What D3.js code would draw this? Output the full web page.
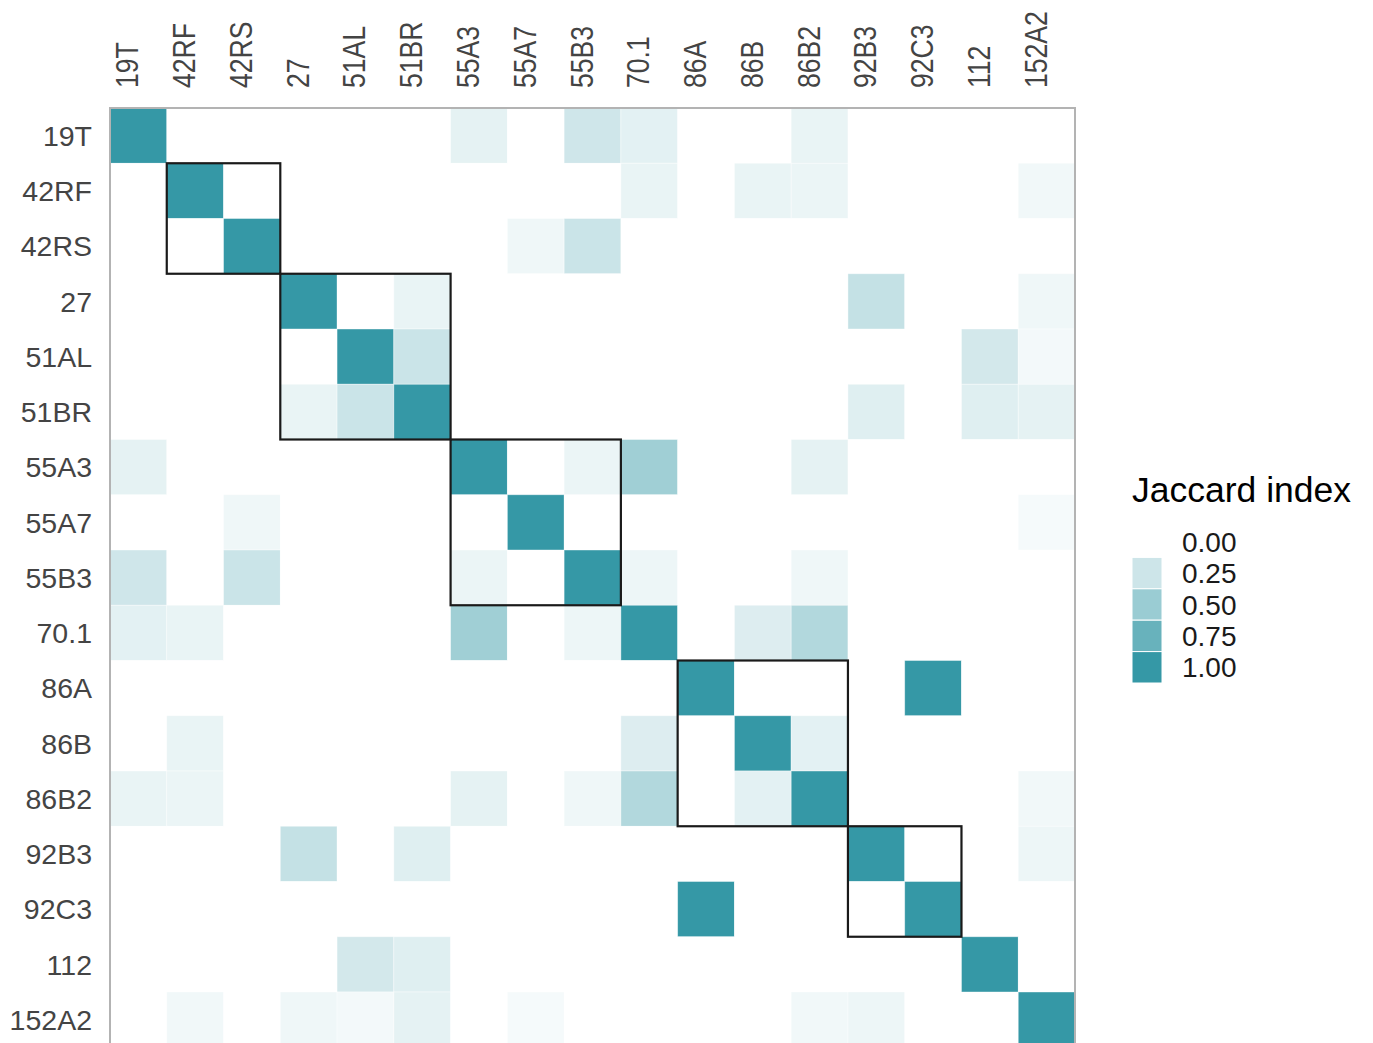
<!DOCTYPE html>
<html>
<head>
<meta charset="utf-8">
<script src="https://cdn.jsdelivr.net/npm/d3@7"></script>
<style>
    body { margin: 0; background: #fff; }
    text { font-family: "Liberation Sans", Arial, sans-serif; }
</style>
</head>
<body>
<div class="container"></div>
<script>
var samples = ["19T", "42RF", "42RS", "27", "51AL", "51BR", "55A3", "55A7", "55B3",
    "70.1", "86A", "86B", "86B2", "92B3", "92C3", "112", "152A2"];

// Jaccard index, row by row (same order as samples)
var jaccard = [
    [1, 0, 0, 0, 0, 0, .13, 0, .24, .14, 0, 0, .11, 0, 0, 0, 0],
    [0, 1, 0, 0, 0, 0, 0, 0, 0, .11, 0, .11, .10, 0, 0, 0, .07],
    [0, 0, 1, 0, 0, 0, 0, .08, .26, 0, 0, 0, 0, 0, 0, 0, 0],
    [0, 0, 0, 1, 0, .11, 0, 0, 0, 0, 0, 0, 0, .29, 0, 0, .08],
    [0, 0, 0, 0, 1, .26, 0, 0, 0, 0, 0, 0, 0, 0, 0, .22, .06],
    [0, 0, 0, .11, .26, 1, 0, 0, 0, 0, 0, 0, 0, .16, 0, .16, .13],
    [.13, 0, 0, 0, 0, 0, 1, 0, .10, .47, 0, 0, .13, 0, 0, 0, 0],
    [0, 0, .08, 0, 0, 0, 0, 1, 0, 0, 0, 0, 0, 0, 0, 0, .05],
    [.24, 0, .26, 0, 0, 0, .10, 0, 1, .09, 0, 0, .08, 0, 0, 0, 0],
    [.14, .11, 0, 0, 0, 0, .47, 0, .09, 1, 0, .17, .38, 0, 0, 0, 0],
    [0, 0, 0, 0, 0, 0, 0, 0, 0, 0, 1, 0, 0, 0, 1, 0, 0],
    [0, .11, 0, 0, 0, 0, 0, 0, 0, .17, 0, 1, .14, 0, 0, 0, 0],
    [.11, .10, 0, 0, 0, 0, .13, 0, .08, .38, 0, .14, 1, 0, 0, 0, .07],
    [0, 0, 0, .29, 0, .16, 0, 0, 0, 0, 0, 0, 0, 1, 0, 0, .09],
    [0, 0, 0, 0, 0, 0, 0, 0, 0, 0, 1, 0, 0, 0, 1, 0, 0],
    [0, 0, 0, 0, .22, .16, 0, 0, 0, 0, 0, 0, 0, 0, 0, 1, 0],
    [0, .07, 0, .08, .06, .13, 0, .05, 0, 0, 0, 0, .07, .09, 0, 0, 1]
];

// clusters outlined in black (first and last member)
var clusterStart = ["42RF", "27", "55A3", "86A", "92B3"];
var clusterEnd = ["42RS", "51BR", "55B3", "86B2", "92C3"];

var legendTicks = [0, 0.25, 0.5, 0.75, 1];

var margin = { top: 108, left: 110 },
    width = 965,
    height = 17 * 55.25;

var svg = d3.select(".container")
    .append("svg")
    .attr("width", 1373)
    .attr("height", 1043);

var x = d3.scaleBand().domain(samples).range([margin.left, margin.left + width]);
var y = d3.scaleBand().domain(samples).range([margin.top, margin.top + height]);

var color = d3.scaleLinear()
    .domain([0, 1])
    .range(["#ffffff", "#3598a6"])
    .interpolate(d3.interpolateRgb);

var cells = [];
jaccard.forEach(function (row, i) {
    row.forEach(function (v, j) {
        cells.push({ row: samples[i], col: samples[j], value: v });
    });
});

// tiles
svg.append("g")
    .selectAll("rect")
    .data(cells)
    .enter()
    .append("rect")
    .attr("x", function (d) { return x(d.col); })
    .attr("y", function (d) { return y(d.row); })
    .attr("width", x.bandwidth())
    .attr("height", y.bandwidth())
    .attr("fill", function (d) { return color(d.value); })
    .attr("stroke", function (d) { return d.value > 0 ? "rgba(255,255,255,0.5)" : "none"; })
    .attr("stroke-width", 0.8);

// panel border
svg.append("rect")
    .attr("x", margin.left)
    .attr("y", margin.top)
    .attr("width", width)
    .attr("height", height)
    .attr("fill", "none")
    .attr("stroke", "#b3b3b3")
    .attr("stroke-width", 2);

// cluster boxes
svg.append("g")
    .selectAll("rect")
    .data(clusterStart)
    .enter()
    .append("rect")
    .attr("x", function (d) { return x(d); })
    .attr("y", function (d) { return y(d); })
    .attr("width", function (d, i) { return x(clusterEnd[i]) + x.bandwidth() - x(d); })
    .attr("height", function (d, i) { return y(clusterEnd[i]) + y.bandwidth() - y(d); })
    .attr("fill", "none")
    .attr("stroke", "#1a1a1a")
    .attr("stroke-width", 2.2);

// y labels
svg.append("g")
    .selectAll("text")
    .data(samples)
    .enter()
    .append("text")
    .attr("x", 92)
    .attr("y", function (d) { return y(d) + y.bandwidth() / 2; })
    .attr("dy", "0.36em")
    .attr("text-anchor", "end")
    .attr("font-size", 28.5)
    .attr("fill", "#444")
    .text(function (d) { return d; });

// x labels (rotated)
svg.append("g")
    .selectAll("text")
    .data(samples)
    .enter()
    .append("text")
    .attr("transform", function (d) {
        return "translate(" + (x(d) + x.bandwidth() / 2) + ",88) rotate(-90) scale(0.95,1.1)";
    })
    .attr("text-anchor", "start")
    .attr("font-size", 28)
    .attr("fill", "#444")
    .text(function (d) { return d; });

// legend
var legend = svg.append("g").attr("transform", "translate(1132,0)");

legend.append("text")
    .attr("x", 0)
    .attr("y", 502)
    .attr("font-size", 35.5)
    .attr("fill", "#000")
    .text("Jaccard index");

var keyH = 31.4;
legend.selectAll("rect")
    .data(legendTicks)
    .enter()
    .append("rect")
    .attr("x", 0)
    .attr("y", function (d, i) { return 526 + i * keyH; })
    .attr("width", 30)
    .attr("height", keyH)
    .attr("fill", function (d) { return color(d); })
    .attr("stroke", "#fff")
    .attr("stroke-width", 1);

legend.selectAll(".lab")
    .data(legendTicks)
    .enter()
    .append("text")
    .attr("class", "lab")
    .attr("x", 50)
    .attr("y", function (d, i) { return 526 + i * keyH + keyH / 2; })
    .attr("dy", "0.36em")
    .attr("font-size", 28)
    .attr("fill", "#1a1a1a")
    .text(function (d) { return d3.format(".2f")(d); });
</script>
</body>
</html>
